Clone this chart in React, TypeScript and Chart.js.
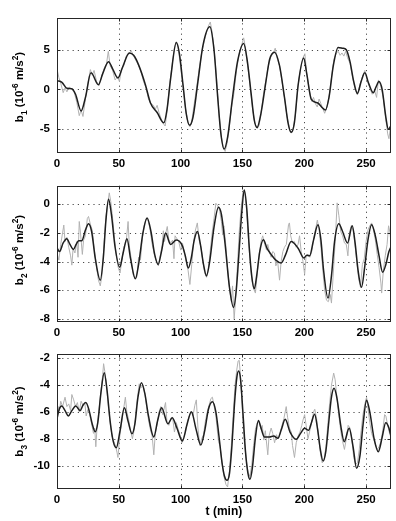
import React, { useEffect, useRef } from 'react';
import { Chart, registerables } from 'chart.js';

Chart.register(...registerables);

// ---------- DATA ----------
const X_TICKS = [0, 50, 100, 150, 200, 250];
const B1_TICKS = [-5, 0, 5];
const B2_TICKS = [0, -2, -4, -6, -8];
const B3_TICKS = [-2, -4, -6, -8, -10];

// b1: smooth (dark) curve, [t (min), value]
const b1Smooth: [number, number][] = [
  [0, 1.1], [4, 0.9], [8, 0.15], [12, 0.1], [15, -0.6], [19.5, -2.7], [23, -1.0], [27.5, 2.1],
  [33.5, 0.6], [37, 2.0], [41.7, 3.5], [45, 2.6], [49.3, 1.45], [53, 2.8], [58.5, 4.6], [62, 4.3],
  [66, 3.1], [71.5, 0.6], [75.6, -1.7], [81, -2.9], [86.4, -4.2], [89, -2.5], [92, 1.5], [96.5, 5.9],
  [99, 4.5], [102, 0.5], [104.5, -3.0], [107.3, -4.5], [110, -3.5], [114, 1.0], [118, 5.5], [123.6, 7.9],
  [127, 5.0], [130, -1.0], [132.5, -5.5], [135.2, -7.5], [138, -6.0], [142, -1.0], [146, 3.5], [151, 5.8],
  [154, 3.5], [157, -0.5], [159.5, -3.8], [161.8, -4.8], [165, -3.0], [169, 1.0], [172, 3.8], [175.9, 4.7],
  [180, 3.0], [184, -1.0], [187, -4.3], [189.4, -5.4], [192, -4.2], [195, 0.5], [199.5, 3.95], [202, 2.0],
  [205.7, -1.25], [211, -1.7], [214, -2.2], [217.1, -2.6], [220, -1.0], [223.5, 3.0], [227.4, 5.3], [231, 5.2],
  [234, 5.0], [237, 3.5], [240, 1.0], [243, -0.5], [246, 1.0], [249, 2.1], [252, 0.8], [255.8, -0.4],
  [258, 0.3], [260.4, 1.0], [263, 0.0], [266, -3.5], [268, -5.0], [270, -4.6],
];
// b1: measured (grey) curve
const b1Raw: [number, number][] = [
  [0, 2.6], [1.5, 1.5], [3, 0.8], [5, -0.4], [6.5, 0.2], [8, -0.3], [10, 0.3], [12, 0.0], [14, -0.4],
  [16, -1.6], [18, -3.3], [19.5, -2.6], [21, -3.4], [23, -1.2], [25, 0.8], [27, 2.5], [28.5, 1.8], [30, 2.4],
  [32, 1.0], [34, 0.5], [36, 1.6], [38, 2.6], [40, 3.2], [41.5, 4.8], [43, 3.0], [45, 2.4], [47, 1.2],
  [49, 1.6], [50.5, 1.0], [52, 2.4], [54, 3.0], [56, 4.2], [58, 4.4], [60, 4.9], [62, 4.2], [64, 3.6],
  [66, 3.0], [68, 2.2], [70, 1.0], [72, 0.2], [74, -1.2], [76, -1.8], [78, -2.0], [79.5, -2.5], [81, -2.0],
  [82.5, -2.9], [84, -3.6], [86, -4.3], [87.5, -4.6], [89, -2.8], [91, 0.5], [93, 3.0], [95, 5.2], [96.5, 6.0],
  [98, 5.3], [100, 2.8], [102, 0.2], [104, -2.5], [106, -4.2], [107.5, -4.7], [109, -4.0], [111, -1.8],
  [113, 0.3], [115, 2.6], [117, 4.6], [119, 6.0], [121, 7.2], [122.5, 8.0], [124, 8.5], [125.5, 7.2],
  [127, 5.2], [129, 1.6], [131, -3.0], [133, -6.0], [134.5, -7.3], [136, -7.8], [137.5, -6.8], [139, -5.3],
  [141, -2.4], [143, -0.6], [145, 2.2], [147, 4.2], [149, 5.4], [151, 6.5], [152.5, 5.2], [154, 3.2],
  [156, 0.8], [158, -2.2], [160, -4.2], [162, -4.9], [163.5, -4.5], [165, -3.0], [167, -0.6], [169, 1.2],
  [171, 3.0], [173, 4.1], [175, 4.6], [176.5, 5.2], [178, 4.0], [180, 3.0], [182, 1.0], [184, -1.0],
  [186, -3.3], [188, -4.9], [189.5, -5.5], [191, -5.0], [193, -3.0], [195, 0.5], [197, 2.6], [199, 4.0],
  [200.5, 4.5], [202, 2.0], [204, 0.0], [206, -1.5], [207.5, -1.0], [209, -1.8], [210.5, -2.2], [212, -1.2],
  [213.5, -1.8], [215, -2.4], [216.5, -3.0], [218, -2.4], [220, -1.0], [222, 1.5], [224, 3.8], [226, 4.6],
  [227.5, 4.8], [229, 4.3], [230.5, 4.6], [232, 4.2], [233.5, 4.8], [235, 4.0], [237, 3.3], [239, 1.6],
  [241, 0.2], [243, -0.7], [245, 0.6], [247, 1.6], [249, 2.4], [251, 1.2], [253, 0.2], [255, -0.6],
  [257, -0.2], [258.5, -1.0], [260, 1.2], [262, 0.4], [264, -1.2], [266, -3.8], [267.5, -5.6], [268.5, -6.2],
  [270, -4.4],
];

// b2
const b2Smooth: [number, number][] = [
  [0, -3.05], [2, -3.3], [5, -2.7], [7.9, -2.4], [10.5, -2.8], [13.3, -3.15], [15.5, -2.8], [17.5, -2.55],
  [20, -2.55], [23, -1.8], [25.5, -1.35], [28, -1.9], [31, -3.8], [35, -5.3], [37.5, -3.7], [39.5, -1.2],
  [41.7, 0.35], [44, -0.7], [47, -3.0], [50.7, -4.4], [53.5, -3.4], [56.6, -2.4], [59.5, -3.8], [63.4, -5.2],
  [66, -4.2], [69.5, -2.0], [72.9, -0.95], [76, -1.9], [79, -3.5], [81.8, -4.2], [84.5, -3.3], [87.8, -2.0],
  [91.9, -2.8], [96.5, -2.5], [101.4, -2.9], [103.8, -3.6], [106.2, -4.45], [108.5, -3.8], [111, -2.5],
  [113.6, -1.9], [116, -2.8], [118.5, -4.2], [120.9, -5.0], [123.5, -4.0], [127, -1.6], [130.6, -0.2],
  [133, -0.7], [136, -2.8], [139.5, -5.8], [142.8, -7.2], [145, -6.0], [147.5, -3.0], [149.5, -0.5],
  [151.5, 1.0], [153.5, -0.3], [155.5, -3.0], [157.5, -5.0], [159.6, -5.9], [161.5, -5.0], [164, -3.3],
  [166.9, -2.47], [170, -3.1], [173.2, -3.5], [177, -3.9], [181.3, -4.1], [185, -3.5], [189.4, -2.6],
  [194.9, -3.05], [199.7, -3.75], [202, -3.55], [204.3, -3.6], [207.5, -2.5], [211.1, -1.43], [213.5, -2.5],
  [215.5, -4.5], [219.2, -6.55], [222, -5.0], [224.5, -2.6], [227.9, -1.36], [231, -1.9], [235, -2.7],
  [238.8, -1.5], [241, -2.6], [243.5, -4.6], [246.3, -5.8], [249, -4.3], [251.5, -2.5], [254.5, -1.43],
  [257.5, -2.2], [260.5, -3.6], [263.4, -4.75], [266, -4.2], [268.5, -3.3], [270, -3.0],
];
const b2Raw: [number, number][] = [
  [0, -3.4], [1.5, -3.9], [3, -2.8], [4.5, -2.0], [5.5, -1.45], [6.5, -2.6], [8, -2.3], [9.5, -3.0],
  [11, -3.6], [12, -4.25], [13, -3.1], [14.5, -3.4], [16, -2.6], [17, -3.7], [18, -1.2], [19, -2.0],
  [20.5, -3.5], [21.5, -2.5], [23, -2.2], [24.5, -1.0], [25.5, -0.85], [27, -1.4], [28.5, -1.8], [30, -3.0],
  [32, -4.4], [33.5, -5.3], [35, -5.7], [36.5, -4.9], [38, -2.8], [39.5, -0.9], [41, 0.0], [42.3, 0.8],
  [43.5, 0.2], [45, -1.0], [46.5, -2.4], [48, -3.6], [49.5, -4.4], [51, -4.8], [52.5, -3.9], [54, -3.0],
  [56, -2.6], [57.5, -1.2], [58.5, -2.9], [60, -3.8], [61.5, -4.9], [63, -5.2], [64.5, -5.1], [66, -3.7],
  [67.5, -3.9], [69, -2.4], [70.5, -1.5], [72, -1.0], [73.5, -1.1], [75, -1.6], [77, -2.8], [79, -3.6],
  [80.5, -4.0], [82, -4.3], [83.5, -3.6], [85, -2.9], [86, -1.85], [87, -2.6], [88, -2.0], [89.2, -1.55],
  [90.5, -2.5], [92, -2.7], [93.5, -2.5], [94.6, -3.8], [95.5, -2.2], [97, -2.4], [98.5, -2.6], [100, -3.2],
  [101.5, -2.7], [103, -3.4], [104.5, -4.0], [106, -4.6], [107.5, -5.6], [109, -4.2], [110.5, -2.6],
  [112, -1.8], [113.5, -1.3], [115, -2.5], [116.5, -3.0], [118, -4.0], [119.5, -4.8], [121, -5.1],
  [122.5, -4.5], [124, -3.2], [125.5, -2.0], [127, -1.0], [128.5, 0.07], [130, -0.1], [131.5, -0.4],
  [133, -1.2], [134, -2.15], [135, -1.5], [136.5, -2.8], [138, -4.5], [139.5, -5.8], [141, -6.8], [142, -5.7],
  [143.3, -8.0], [144.5, -6.6], [146, -4.2], [147.5, -1.8], [149, -0.2], [150.5, 0.9], [151.5, 1.0],
  [153, 0.0], [154.5, -2.0], [156, -3.8], [157.5, -5.2], [159, -5.9], [160.5, -6.2], [162, -4.8],
  [163.5, -3.5], [165, -2.6], [166.4, -2.2], [168, -2.8], [169.5, -3.2], [170.5, -2.8], [172, -3.4],
  [173.2, -3.7], [174.5, -3.3], [175.9, -3.4], [177, -4.3], [178.5, -4.0], [180, -5.3], [181.3, -4.0],
  [182.7, -3.3], [184, -3.0], [185.5, -2.8], [187.3, -1.4], [188, -1.3], [189, -2.2], [190.5, -2.7],
  [192, -2.6], [193.5, -3.0], [195, -2.8], [196.2, -2.2], [197.5, -3.3], [199, -4.0], [200.3, -4.9],
  [201.5, -3.6], [203, -3.5], [204.5, -3.7], [206, -3.3], [207.5, -2.5], [209, -1.8], [210.6, -1.1],
  [212, -1.8], [213.5, -3.0], [215, -4.6], [216.5, -6.0], [218, -6.7], [219.5, -6.8], [221, -6.3],
  [222, -6.9], [223.5, -4.8], [225, -2.6], [226.6, 0.1], [228, -0.8], [229.5, -1.9], [231, -2.2],
  [232.5, -2.7], [234, -2.8], [235.3, -3.6], [236.5, -2.0], [238, -1.5], [239.5, -1.8], [241, -2.8],
  [242.5, -4.0], [244, -5.2], [245.5, -5.8], [247, -4.2], [248.5, -3.8], [250, -2.6], [251.5, -1.8],
  [253, -1.5], [254.5, -1.3], [256, -1.8], [257.5, -2.5], [259, -3.5], [260.5, -4.4], [262, -5.5],
  [262.6, -6.2], [264, -4.6], [265.5, -3.6], [267, -2.8], [268.2, -1.5], [269.4, -2.0], [270, -2.6],
];

// b3
const b3Smooth: [number, number][] = [
  [0, -6.5], [1.8, -5.8], [3.8, -5.56], [6.5, -5.9], [9.2, -6.3], [12, -5.9], [15.2, -5.56], [18.7, -5.9],
  [21, -5.5], [23.3, -5.3], [26, -5.9], [28.5, -6.9], [30.9, -7.48], [33, -6.8], [35.5, -4.6], [38.2, -3.07],
  [40.5, -4.4], [43, -6.7], [45.5, -8.2], [48, -8.67], [51, -7.4], [54.5, -5.69], [57.5, -6.7], [60.7, -7.63],
  [63, -6.9], [65.5, -4.9], [68.3, -3.82], [71, -4.6], [74, -6.3], [78.3, -7.87], [81.5, -6.6], [84.6, -5.69],
  [89.7, -6.88], [93.2, -6.43], [97, -7.2], [101.4, -8.17], [105, -7.0], [108.7, -5.98], [112.5, -7.3],
  [116.3, -8.47], [119.5, -7.4], [122.5, -5.8], [125.7, -5.24], [128.5, -6.0], [131, -7.8], [133.5, -9.8],
  [135.5, -10.8], [137.5, -11.1], [139.5, -10.6], [141.5, -8.5], [143.5, -5.5], [145.5, -3.4], [146.9, -2.95],
  [148.5, -3.6], [150.5, -6.2], [152.5, -9.0], [154.5, -10.6], [156.1, -11.03], [158, -10.2], [160.5, -7.9],
  [162.9, -6.63], [165, -7.2], [167.8, -7.87], [171.8, -7.87], [175.3, -7.8], [178.6, -7.97], [181.5, -7.3],
  [184.6, -6.55], [188.5, -7.5], [193.5, -8.04], [197, -7.6], [200.3, -7.22], [203.5, -7.37], [205.8, -6.8],
  [208.4, -6.18], [210.8, -7.3], [213, -8.8], [215.2, -9.66], [217.5, -8.9], [220, -6.6], [222, -4.9],
  [224.1, -4.24], [226.5, -5.0], [229.5, -7.0], [232.3, -8.22], [236.3, -7.22], [239.5, -8.6], [242.3, -10.2],
  [245, -9.3], [247.5, -7.0], [250.4, -5.13], [253, -6.0], [256.5, -8.0], [259.9, -8.97], [263, -7.9],
  [265.9, -6.8], [268.5, -7.2], [270, -7.8],
];
const b3Raw: [number, number][] = [
  [0, -6.3], [1, -5.6], [2, -5.9], [3, -5.2], [4.5, -5.6], [6.5, -4.9], [8, -5.6], [9.5, -5.4], [11, -5.9],
  [12, -4.7], [13.5, -5.1], [15, -5.6], [16.5, -5.3], [18, -6.0], [19.5, -5.2], [21, -5.5], [22.5, -5.3],
  [23.6, -6.3], [25, -5.8], [26.5, -6.2], [28, -6.9], [29.5, -7.6], [30.5, -7.2], [31.4, -8.6], [32.5, -7.0],
  [34, -5.8], [35.5, -4.5], [37, -3.2], [37.7, -2.4], [38.7, -3.0], [40, -4.0], [41.5, -5.6], [43, -6.8],
  [44.5, -7.8], [46, -8.2], [47.5, -8.6], [48.5, -9.0], [49.3, -9.4], [50.5, -8.0], [52, -7.0], [53.5, -6.0],
  [55.3, -4.9], [56.5, -6.0], [58, -6.6], [59.5, -7.4], [61, -8.0], [62.5, -7.3], [64, -5.8], [65.5, -4.6],
  [66.5, -3.9], [68, -4.2], [69.5, -4.0], [71, -4.6], [72.5, -5.6], [74, -6.6], [75.5, -7.3], [77, -7.8],
  [78.3, -9.2], [79.5, -7.6], [81, -6.9], [82.5, -6.0], [84, -5.6], [85.5, -6.2], [87.8, -5.3], [89, -6.8],
  [90.5, -7.0], [92, -6.5], [93.5, -6.4], [95, -7.5], [96.5, -6.8], [98, -7.3], [99.5, -7.7], [101, -8.3],
  [102.5, -7.9], [104, -7.5], [105.5, -6.7], [107, -6.3], [108.5, -6.0], [110, -6.3], [111.5, -5.5],
  [112.7, -5.1], [114, -7.2], [115.5, -8.5], [117, -8.0], [118.5, -7.7], [120, -6.7], [121.5, -6.0],
  [123, -5.5], [124.5, -5.0], [125.7, -4.9], [127, -5.5], [128.5, -6.3], [130.6, -8.2], [132, -8.6],
  [133.5, -9.8], [135, -10.8], [136.6, -11.4], [138, -11.6], [139.5, -10.4], [141, -8.5], [142.5, -6.2],
  [144, -4.0], [145.5, -2.8], [146.5, -2.2], [147.4, -2.15], [148.5, -3.4], [150, -6.0], [151.5, -8.2],
  [153, -9.5], [154.5, -10.5], [156, -10.8], [157.5, -10.0], [159, -8.5], [160.5, -7.3], [162, -6.8],
  [163.5, -6.7], [165, -7.3], [166, -7.0], [167.3, -8.1], [168.5, -7.4], [170.5, -9.2], [171.5, -7.8],
  [173.2, -7.2], [174.5, -7.6], [176, -8.3], [177.5, -7.7], [179, -8.0], [180.5, -7.6], [182, -7.0],
  [183.5, -6.5], [185.4, -5.6], [186.5, -6.4], [188, -7.2], [189.5, -7.5], [190.5, -8.5], [192.1, -9.4],
  [193.5, -8.3], [195, -7.8], [196.5, -7.5], [198, -7.0], [199, -6.6], [200.3, -6.2], [201.5, -7.0],
  [203, -8.0], [204.5, -7.4], [206, -6.8], [207.5, -6.0], [208.5, -5.8], [210, -6.5], [211.5, -7.8],
  [213, -9.0], [214.5, -9.8], [216, -9.6], [217.5, -8.6], [219, -7.0], [220.5, -5.4], [222, -4.0],
  [223.8, -3.1], [225, -3.6], [226.5, -5.0], [228, -6.3], [229.5, -7.4], [231, -8.2], [232.5, -8.8],
  [234, -8.0], [235.5, -7.0], [237, -7.2], [238.5, -8.0], [240, -9.4], [241.5, -9.9], [243, -9.8],
  [244.5, -8.8], [246, -7.4], [247.5, -6.2], [249, -5.4], [250.4, -4.9], [251.5, -5.7], [253, -6.8],
  [254.5, -7.6], [256, -8.0], [257.5, -8.4], [259, -8.8], [260.5, -8.6], [262, -8.2], [263.5, -7.4],
  [265, -6.2], [266, -6.3], [267.5, -7.0], [269, -7.6], [270, -7.5],
];

// ---------- STYLE / LAYOUT ----------
const FONT_FAMILY = '"Liberation Sans", Arial, Helvetica, sans-serif';
const TICK_FONT = { family: FONT_FAMILY, size: 11.5, weight: 'bold' as const };
const LABEL_SIZE = 11.5;
const DARK = '#1e1e1e';
const GREY = '#b2b2b2';

type Seg = { t: string; sub?: boolean; sup?: boolean };

interface PanelSpec {
  top: number;
  height: number;
  plotTop: number;
  plotBottom: number;
  yMin: number;
  yMax: number;
  yTicks: number[];
  smooth: [number, number][];
  raw: [number, number][];
  sub: string;
  labelCenterY: number;
  xTitle?: string;
}

const PANELS: PanelSpec[] = [
  { top: 0, height: 170, plotTop: 18, plotBottom: 153, yMin: -8, yMax: 9, yTicks: B1_TICKS, smooth: b1Smooth, raw: b1Raw, sub: '1', labelCenterY: 87 },
  { top: 170, height: 170, plotTop: 15.7, plotBottom: 151.7, yMin: -8.2, yMax: 1.3, yTicks: B2_TICKS, smooth: b2Smooth, raw: b2Raw, sub: '2', labelCenterY: 80 },
  { top: 340, height: 181, plotTop: 14.3, plotBottom: 149, yMin: -11.75, yMax: -1.7, yTicks: B3_TICKS, smooth: b3Smooth, raw: b3Raw, sub: '3', labelCenterY: 81.5, xTitle: 't (min)' },
];

const PLOT_LEFT = 57;
const PLOT_RIGHT_PAD = 5.2;

function drawRotatedRich(ctx: CanvasRenderingContext2D, segs: Seg[], x: number, y: number, size: number) {
  ctx.save();
  ctx.translate(x, y);
  ctx.rotate(-Math.PI / 2);
  ctx.fillStyle = '#000';
  ctx.textBaseline = 'alphabetic';
  ctx.textAlign = 'left';
  const fontFor = (s: Seg) => `bold ${s.sub || s.sup ? (size * 0.72).toFixed(1) : size}px ${FONT_FAMILY}`;
  let total = 0;
  for (const s of segs) {
    ctx.font = fontFor(s);
    total += ctx.measureText(s.t).width;
  }
  let cx = -total / 2;
  for (const s of segs) {
    ctx.font = fontFor(s);
    const dy = s.sub ? size * 0.32 : s.sup ? -size * 0.45 : 0;
    ctx.fillText(s.t, cx, dy);
    cx += ctx.measureText(s.t).width;
  }
  ctx.restore();
}

function makeFramePlugin(spec: PanelSpec) {
  return {
    id: 'matlabFrame',
    beforeDatasetsDraw(chart: any) {
      const { ctx, chartArea: a, scales } = chart;
      ctx.save();
      ctx.strokeStyle = '#4a4a4a';
      ctx.lineWidth = 1;
      ctx.setLineDash([1.2, 4]);
      for (const v of X_TICKS) {
        const px = Math.round(scales.x.getPixelForValue(v)) + 0.5;
        if (px <= a.left + 1 || px >= a.right - 1) continue;
        ctx.beginPath();
        ctx.moveTo(px, a.top);
        ctx.lineTo(px, a.bottom);
        ctx.stroke();
      }
      for (const v of spec.yTicks) {
        const py = Math.round(scales.y.getPixelForValue(v)) + 0.5;
        if (py <= a.top + 1 || py >= a.bottom - 1) continue;
        ctx.beginPath();
        ctx.moveTo(a.left, py);
        ctx.lineTo(a.right, py);
        ctx.stroke();
      }
      ctx.restore();
    },
    afterDatasetsDraw(chart: any) {
      const { ctx, chartArea: a, scales } = chart;
      ctx.save();
      ctx.strokeStyle = '#262626';
      ctx.lineWidth = 1;
      ctx.setLineDash([]);
      const L = Math.round(a.left) + 0.5;
      const R = Math.round(a.right) - 0.5;
      const T = Math.round(a.top) + 0.5;
      const B = Math.round(a.bottom) - 0.5;
      ctx.strokeRect(L, T, R - L, B - T);
      const tl = 3;
      ctx.beginPath();
      for (const v of X_TICKS) {
        const px = Math.round(scales.x.getPixelForValue(v)) + 0.5;
        ctx.moveTo(px, B);
        ctx.lineTo(px, B - tl);
        ctx.moveTo(px, T);
        ctx.lineTo(px, T + tl);
      }
      for (const v of spec.yTicks) {
        const py = Math.round(scales.y.getPixelForValue(v)) + 0.5;
        ctx.moveTo(L, py);
        ctx.lineTo(L + tl, py);
        ctx.moveTo(R, py);
        ctx.lineTo(R - tl, py);
      }
      ctx.stroke();
      ctx.restore();
      drawRotatedRich(
        ctx,
        [
          { t: 'b' },
          { t: spec.sub, sub: true },
          { t: ' (10' },
          { t: '-6', sup: true },
          { t: ' m/s' },
          { t: '2', sup: true },
          { t: ')' },
        ],
        23,
        spec.labelCenterY,
        LABEL_SIZE
      );
    },
  };
}

function buildChart(canvas: HTMLCanvasElement, spec: PanelSpec) {
  const xAxisH = spec.height - spec.plotBottom;
  return new Chart(canvas, {
    type: 'line',
    data: {
      datasets: [
        {
          data: spec.smooth.map(([x, y]) => ({ x, y })),
          borderColor: DARK,
          borderWidth: 1.5,
          pointRadius: 0,
          cubicInterpolationMode: 'monotone',
          fill: false,
          order: 0,
        },
        {
          data: spec.raw.map(([x, y]) => ({ x, y })),
          borderColor: GREY,
          borderWidth: 1,
          pointRadius: 0,
          tension: 0,
          fill: false,
          order: 1,
        },
      ],
    },
    options: {
      animation: false,
      responsive: false,
      events: [],
      layout: { padding: { top: spec.plotTop, right: PLOT_RIGHT_PAD, left: 0, bottom: 0 } },
      plugins: { legend: { display: false }, tooltip: { enabled: false } },
      scales: {
        x: {
          type: 'linear',
          min: 0,
          max: 270,
          afterBuildTicks: (axis: any) => {
            axis.ticks = X_TICKS.map((v) => ({ value: v }));
          },
          afterFit: (axis: any) => {
            axis.height = xAxisH;
          },
          grid: { display: false, drawTicks: false },
          border: { display: false },
          ticks: { padding: 4, font: TICK_FONT, color: '#000', maxRotation: 0, autoSkip: false },
          title: spec.xTitle
            ? { display: true, text: spec.xTitle, font: { family: FONT_FAMILY, size: 12, weight: 'bold' }, color: '#000', padding: { top: 0, bottom: 2 } }
            : { display: false },
        },
        y: {
          type: 'linear',
          min: spec.yMin,
          max: spec.yMax,
          afterBuildTicks: (axis: any) => {
            axis.ticks = spec.yTicks.map((v) => ({ value: v }));
          },
          afterFit: (axis: any) => {
            axis.width = PLOT_LEFT;
          },
          grid: { display: false, drawTicks: false },
          border: { display: false },
          ticks: { padding: 7, font: TICK_FONT, color: '#000', autoSkip: false },
        },
      },
    } as any,
    plugins: [makeFramePlugin(spec)],
  });
}

function Panel({ spec }: { spec: PanelSpec }) {
  const ref = useRef<HTMLCanvasElement | null>(null);
  useEffect(() => {
    if (!ref.current) return;
    const chart = buildChart(ref.current, spec);
    return () => chart.destroy();
  }, [spec]);
  return (
    <canvas
      ref={ref}
      width={396}
      height={spec.height}
      style={{ position: 'absolute', left: 0, top: spec.top, width: 396, height: spec.height, display: 'block' }}
    />
  );
}

export default function App() {
  return (
    <div style={{ position: 'absolute', left: 0, top: 0, width: 396, height: 521, background: '#fff', overflow: 'hidden' }}>
      {PANELS.map((p) => (
        <Panel key={p.sub} spec={p} />
      ))}
    </div>
  );
}
